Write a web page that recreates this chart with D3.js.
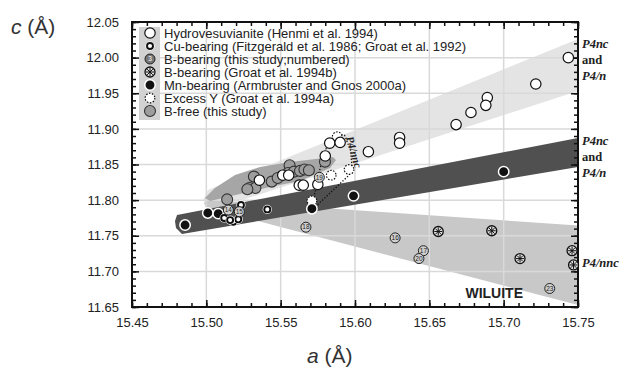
<!DOCTYPE html>
<html>
<head>
<meta charset="utf-8">
<script src="https://cdn.jsdelivr.net/npm/d3@7"></script>
<style>
body { margin: 0; background: #fff; }
svg { font-family: "Liberation Sans", Arial, sans-serif; }
</style>
</head>
<body>
<script>
// ---- data (a, c in Angstrom) ----
const xTicks = [15.45, 15.50, 15.55, 15.60, 15.65, 15.70, 15.75];
const yTicks = [11.65, 11.70, 11.75, 11.80, 11.85, 11.90, 11.95, 12.00, 12.05];

const hydroA = [15.7435, 15.7216, 15.689, 15.688, 15.678, 15.668, 15.630, 15.630, 15.609, 15.583, 15.590, 15.580, 15.5357, 15.5514, 15.5554, 15.5625, 15.5652, 15.575];
const hydroC = [12.000, 11.963, 11.944, 11.933, 11.923, 11.906, 11.888, 11.880, 11.868, 11.880, 11.881, 11.862, 11.828, 11.835, 11.835, 11.821, 11.821, 11.822];

const cuA = [15.5233, 15.5181, 15.5215, 15.541, 15.512, 15.516];
const cuC = [11.7932, 11.7697, 11.7730, 11.787, 11.775, 11.772];

const bNumA = [15.5148, 15.5222, 15.576, 15.567, 15.627, 15.646, 15.643, 15.731];
const bNumC = [11.7861, 11.7838, 11.832, 11.762, 11.747, 11.729, 11.718, 11.676];
const bNumLabel = ["14", "15", "19", "18", "16", "17", "20", "23"];

const bGroatA = [15.656, 15.692, 15.711, 15.746, 15.747];
const bGroatC = [11.756, 11.757, 11.718, 11.729, 11.709];

const mnA = [15.4857, 15.501, 15.508, 15.571, 15.599, 15.700];
const mnC = [11.765, 11.782, 11.781, 11.788, 11.806, 11.840];

const exYA = [15.584, 15.596, 15.571, 15.588];
const exYC = [11.835, 11.843, 11.799, 11.889];

const bFreeA = [15.514, 15.532, 15.529, 15.533, 15.5276, 15.544, 15.548, 15.556, 15.555, 15.559, 15.563, 15.566, 15.569, 15.5798];
const bFreeC = [11.801, 11.833, 11.817, 11.817, 11.8152, 11.826, 11.831, 11.849, 11.838, 11.840, 11.841, 11.843, 11.842, 11.854];

// field outlines
const upperBandA = [15.4978, 15.5011, 15.75, 15.75, 15.5058];
const upperBandC = [11.8002, 11.8142, 12.0261, 11.9532, 11.7876];
const wiluiteBandA = [15.4984, 15.4998, 15.75, 15.75, 15.4998];
const wiluiteBandC = [11.7960, 11.8002, 11.7644, 11.6528, 11.7896];
const mnBandA = [15.4803, 15.75, 15.75, 15.4836, 15.4796, 15.4789];
const mnBandC = [11.7791, 11.8872, 11.8465, 11.7525, 11.7609, 11.7707];
const bFreeBandA = [15.4991, 15.5058, 15.5193, 15.5361, 15.5563, 15.5852, 15.5872, 15.5832, 15.5630, 15.5428, 15.5226, 15.5025];
const bFreeBandC = [11.8030, 11.8170, 11.8353, 11.8465, 11.8535, 11.8605, 11.8562, 11.8451, 11.8268, 11.8184, 11.8086, 11.7988];
const nncLoopA = [15.571, 15.577, 15.581, 15.587, 15.593, 15.597, 15.598, 15.596, 15.573];
const nncLoopC = [11.791, 11.849, 11.875, 11.894, 11.891, 11.870, 11.847, 11.835, 11.790];

const legendLabels = [
  "Hydrovesuvianite (Henmi et al. 1994)",
  "Cu-bearing (Fitzgerald et al. 1986; Groat et al. 1992)",
  "B-bearing (this study;numbered)",
  "B-bearing (Groat et al. 1994b)",
  "Mn-bearing (Armbruster and Gnos 2000a)",
  "Excess Y (Groat et al. 1994a)",
  "B-free (this study)"
];
const legendTypes = ["hydro", "cu", "bnum", "bgroat", "mn", "exy", "bfree"];

// ---- chart ----
const svg = d3.select("body").append("svg").attr("width", 621).attr("height", 368);
const x = d3.scaleLinear().domain([15.45, 15.75]).range([132, 578]);
const y = d3.scaleLinear().domain([11.65, 12.05]).range([307, 22]);

const zip = (as, cs) => as.map((a, i) => [a, cs[i]]);
const line = d3.line().x(d => x(d[0])).y(d => y(d[1]));

svg.append("defs").append("clipPath").attr("id", "plot")
  .append("rect").attr("x", 132).attr("y", 22).attr("width", 446).attr("height", 285);

const field = svg.append("g").attr("clip-path", "url(#plot)");
function band(g, as, cs, fill) {
  g.append("path").attr("d", line(zip(as, cs)) + "Z").attr("fill", fill);
}
band(field, upperBandA, upperBandC, "#e4e4e4");
band(field, wiluiteBandA, wiluiteBandC, "#c8c8c8");

// grid
const grid = svg.append("g").attr("stroke", "#d9d9d9").attr("stroke-width", 1.5);
grid.selectAll(".gx").data(xTicks.slice(1, -1)).join("line")
  .attr("x1", d => x(d)).attr("x2", d => x(d)).attr("y1", 22).attr("y2", 307);
grid.selectAll(".gy").data(yTicks.slice(1, -1)).join("line")
  .attr("y1", d => y(d)).attr("y2", d => y(d)).attr("x1", 132).attr("x2", 578);

const field2 = svg.append("g").attr("clip-path", "url(#plot)");
band(field2, mnBandA, mnBandC, "#505050");
band(field2, bFreeBandA, bFreeBandC, "#a6a6a6");

// dotted P4/nnc outline
svg.append("path").attr("d", line(zip(nncLoopA, nncLoopC)))
  .attr("fill", "none").attr("stroke", "#111").attr("stroke-width", 1.3)
  .attr("stroke-dasharray", "1.3,1.8");

// axes
const minorX = d3.range(31).map(i => +(15.45 + i * 0.01).toFixed(2));
const minorY = d3.range(41).map(i => +(11.65 + i * 0.01).toFixed(2));
const fmt = d3.format(".2f");

function addAxis(axis, tx, ty) {
  const g = svg.append("g").attr("transform", `translate(${tx},${ty})`).call(axis);
  g.select(".domain").remove();
  g.selectAll(".tick line").attr("stroke", "#111").attr("stroke-width", 1.5);
  g.selectAll("text").attr("font-size", 13).attr("fill", "#222")
    .attr("font-family", "'Liberation Sans', Arial, sans-serif");
  return g;
}
addAxis(d3.axisBottom(x).tickValues(minorX).tickSize(-4).tickFormat(""), 0, 307);
addAxis(d3.axisBottom(x).tickValues(xTicks).tickSize(-7).tickPadding(11).tickFormat(fmt), 0, 307);
addAxis(d3.axisTop(x).tickValues(minorX).tickSize(-4).tickFormat(""), 0, 22);
addAxis(d3.axisTop(x).tickValues(xTicks).tickSize(-7).tickFormat(""), 0, 22);
addAxis(d3.axisLeft(y).tickValues(minorY).tickSize(-4).tickFormat(""), 132, 0);
addAxis(d3.axisLeft(y).tickValues(yTicks).tickSize(-7).tickPadding(13).tickFormat(fmt), 132, 0);
addAxis(d3.axisRight(y).tickValues(minorY).tickSize(-4).tickFormat(""), 578, 0);
addAxis(d3.axisRight(y).tickValues(yTicks).tickSize(-7).tickFormat(""), 578, 0);

svg.append("rect").attr("x", 132).attr("y", 22).attr("width", 446).attr("height", 285)
  .attr("fill", "none").attr("stroke", "#111").attr("stroke-width", 2);

// symbols
function symbol(g, type, cx, cy, label, dark) {
  if (type === "hydro") {
    g.append("circle").attr("cx", cx).attr("cy", cy).attr("r", 5.2)
      .attr("fill", "#fff").attr("stroke", "#111").attr("stroke-width", 1.2);
  } else if (type === "cu") {
    g.append("circle").attr("cx", cx).attr("cy", cy).attr("r", 4.6).attr("fill", "#fff");
    g.append("circle").attr("cx", cx).attr("cy", cy).attr("r", 3)
      .attr("fill", "#fff").attr("stroke", "#111").attr("stroke-width", 1.9);
  } else if (type === "bnum") {
    g.append("circle").attr("cx", cx).attr("cy", cy).attr("r", 5)
      .attr("fill", dark ? "#777" : "#d0d0d0").attr("stroke", "#222").attr("stroke-width", 1);
    g.append("text").attr("x", cx).attr("y", cy + 2.2).attr("text-anchor", "middle")
      .attr("font-size", 6.5).attr("fill", dark ? "#fff" : "#222").text(label);
  } else if (type === "bgroat") {
    g.append("circle").attr("cx", cx).attr("cy", cy).attr("r", 5)
      .attr("fill", "#e0e0e0").attr("stroke", "#111").attr("stroke-width", 1.3);
    [0, 45, 90, 135].forEach(t => {
      const dx = Math.cos(t * Math.PI / 180) * 4, dy = Math.sin(t * Math.PI / 180) * 4;
      g.append("line").attr("x1", cx - dx).attr("y1", cy - dy).attr("x2", cx + dx).attr("y2", cy + dy)
        .attr("stroke", "#111").attr("stroke-width", 1);
    });
  } else if (type === "mn") {
    g.append("circle").attr("cx", cx).attr("cy", cy).attr("r", 5.2)
      .attr("fill", "#111").attr("stroke", "#fff").attr("stroke-width", 1.5);
  } else if (type === "exy") {
    g.append("circle").attr("cx", cx).attr("cy", cy).attr("r", 4.8)
      .attr("fill", "#fff").attr("stroke", "#111").attr("stroke-width", 1.2)
      .attr("stroke-dasharray", "1.5,1.5");
  } else if (type === "bfree") {
    g.append("circle").attr("cx", cx).attr("cy", cy).attr("r", 5.5)
      .attr("fill", "#9d9d9d").attr("stroke", "#333").attr("stroke-width", 1.1);
  }
}

const pts = svg.append("g");
zip(bFreeA, bFreeC).forEach(d => symbol(pts, "bfree", x(d[0]), y(d[1])));
zip(exYA, exYC).forEach(d => symbol(pts, "exy", x(d[0]), y(d[1])));
zip(hydroA, hydroC).forEach(d => symbol(pts, "hydro", x(d[0]), y(d[1])));
zip(mnA, mnC).forEach(d => symbol(pts, "mn", x(d[0]), y(d[1])));
zip(cuA, cuC).forEach(d => symbol(pts, "cu", x(d[0]), y(d[1])));
zip(bNumA, bNumC).forEach((d, i) => symbol(pts, "bnum", x(d[0]), y(d[1]), bNumLabel[i]));
zip(bGroatA, bGroatC).forEach(d => symbol(pts, "bgroat", x(d[0]), y(d[1])));

// annotations
svg.append("text").attr("transform", `translate(${x(15.5995)},${y(11.8675)}) rotate(74)`)
  .attr("text-anchor", "middle").attr("dy", 4)
  .attr("font-family", "'Liberation Serif', 'Times New Roman', serif")
  .attr("font-weight", "bold").attr("font-style", "italic").attr("font-size", 11)
  .attr("fill", "#222").text("P4/nnc");

svg.append("text").attr("x", x(15.713)).attr("y", y(11.6626)).attr("text-anchor", "end")
  .attr("font-weight", "bold").attr("font-size", 14).attr("fill", "#222").text("WILUITE");

const sideLabels = [
  { c: 12.0205, lines: ["P4nc", "and", "P4/n"] },
  { c: 11.884, lines: ["P4nc", "and", "P4/n"] },
  { c: 11.713, lines: ["P4/nnc"] }
];
sideLabels.forEach(s => {
  s.lines.forEach((t, i) => {
    svg.append("text").attr("x", 582).attr("y", y(s.c) + 4.5 + i * 16)
      .attr("font-family", "'Liberation Serif', 'Times New Roman', serif")
      .attr("font-weight", "bold").attr("font-style", t === "and" ? "normal" : "italic")
      .attr("font-size", 12.5).attr("fill", "#222").text(t);
  });
});

// legend
svg.append("rect").attr("x", 139).attr("y", 27).attr("width", 21).attr("height", 93).attr("fill", "#d2d2d2");
const leg = svg.append("g");
legendLabels.forEach((t, i) => {
  const cy = 33 + i * 13;
  symbol(leg, legendTypes[i], 150, cy, legendTypes[i] === "bnum" ? "3" : "", true);
  leg.append("text").attr("x", 164).attr("y", cy + 4.6).attr("font-size", 13)
    .attr("fill", "#222").text(t);
});

// axis titles
const yt = svg.append("text").attr("x", 11).attr("y", 34).attr("font-size", 21).attr("fill", "#333");
yt.append("tspan").attr("font-style", "italic").text("c");
yt.append("tspan").text(" (Å)");
const xt = svg.append("text").attr("x", 307).attr("y", 363).attr("font-size", 21).attr("fill", "#333");
xt.append("tspan").attr("font-style", "italic").text("a");
xt.append("tspan").text(" (Å)");
</script>
</body>
</html>
